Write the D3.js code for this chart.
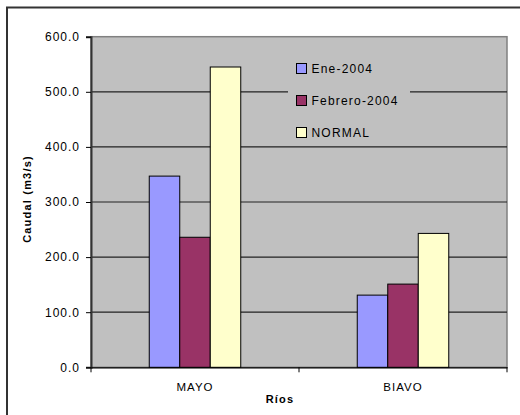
<!DOCTYPE html>
<html><head><meta charset="utf-8">
<script src="https://cdn.jsdelivr.net/npm/d3@7"></script>
<style>body{margin:0;background:#fff}svg{display:block;font-family:"Liberation Sans",Arial,sans-serif}</style>
</head><body>
<script>
const categories = ["MAYO", "BIAVO"];
const seriesNames = ["Ene-2004", "Febrero-2004", "NORMAL"];
const ene2004 = [347, 131];
const febrero2004 = [236, 151];
const normal = [545, 243];
const yTicks = [0, 100, 200, 300, 400, 500, 600];
const colors = ["#9999FF", "#993366", "#FFFFCC"];
const seriesValues = [ene2004, febrero2004, normal];

const W = 520, H = 415;
const svg = d3.select("body").append("svg").attr("width", W).attr("height", H);

// outer frame
svg.append("rect").attr("x", 7).attr("y", 7.5).attr("width", W).attr("height", H)
  .attr("fill", "#fff").attr("stroke", "#333").attr("stroke-width", 2);

const L = 91, R = 507, T = 36.7, B = 367.3;
const x = d3.scaleBand().domain(categories).range([L, R]);
const xs = d3.scaleBand().domain(seriesNames).range([0, 91.5]);
const y = d3.scaleLinear().domain([0, 600]).range([B, T]);

svg.append("rect").attr("x", L).attr("y", T).attr("width", R - L).attr("height", B - T)
  .attr("fill", "#C0C0C0").attr("stroke", "#808080").attr("stroke-width", 1.5);

// gridlines
svg.append("g").selectAll("line").data(yTicks.filter(d => d > 0 && d < 600)).join("line")
  .attr("x1", L).attr("x2", R).attr("y1", d => y(d)).attr("y2", d => y(d))
  .attr("stroke", "#222").attr("stroke-width", 1.2);

// bars
const groups = svg.append("g").selectAll("g").data(seriesNames).join("g").attr("fill", (d, i) => colors[i]);
groups.selectAll("rect").data((s, si) => categories.map((c, ci) => ({c, s, v: seriesValues[si][ci]}))).join("rect")
  .attr("x", d => x(d.c) + (x.bandwidth() - 91.5) / 2 + xs(d.s))
  .attr("width", xs.bandwidth())
  .attr("y", d => y(d.v))
  .attr("height", d => B - y(d.v))
  .attr("stroke", "#000").attr("stroke-width", 1);

// legend
const lg = svg.append("g");
lg.append("rect").attr("x", 288).attr("y", 52).attr("width", 122).attr("height", 92).attr("fill", "#C0C0C0");
seriesNames.forEach((s, i) => {
  const yy = 63.5 + i * 32;
  lg.append("rect").attr("x", 296.5).attr("y", yy).attr("width", 10).attr("height", 10)
    .attr("fill", colors[i]).attr("stroke", "#000").attr("stroke-width", 1);
  lg.append("text").attr("x", 311.5).attr("y", yy + 9.3).text(s)
    .attr("font-size", 12).attr("letter-spacing", 1.2).attr("fill", "#000");
});

// y axis
const ya = d3.axisLeft(y).tickValues(yTicks).tickFormat(d3.format(".1f")).tickSize(5).tickPadding(6);
const yg = svg.append("g").attr("transform", `translate(${L},0)`).call(ya);
yg.select(".domain").attr("stroke", "#333").attr("stroke-width", 2);
yg.selectAll(".tick line").attr("stroke", "#000");
yg.selectAll("text").attr("font-size", 12).attr("letter-spacing", 1).attr("fill", "#000")
  .attr("font-family", '"Liberation Sans",Arial,sans-serif');

// x axis
const xa = d3.axisBottom(x).tickSize(0).tickPadding(16);
const xg = svg.append("g").attr("transform", `translate(0,${B})`).call(xa);
xg.select(".domain").attr("stroke", "#000").attr("stroke-width", 1.2);
xg.selectAll("text").attr("font-size", 11.5).attr("letter-spacing", 1).attr("fill", "#000")
  .attr("font-family", '"Liberation Sans",Arial,sans-serif');
// boundary ticks
svg.append("g").selectAll("line").data([L, (L + R) / 2, R]).join("line")
  .attr("x1", d => d).attr("x2", d => d).attr("y1", B).attr("y2", B + 5)
  .attr("stroke", "#000").attr("stroke-width", 1);

// axis titles
svg.append("text").attr("transform", `translate(31,199) rotate(-90)`).attr("text-anchor", "middle")
  .attr("font-size", 11).attr("font-weight", "bold").attr("letter-spacing", 1.2).text("Caudal (m3/s)");
svg.append("text").attr("x", 280).attr("y", 403).attr("text-anchor", "middle")
  .attr("font-size", 11).attr("font-weight", "bold").attr("letter-spacing", 1.2).text("Ríos");
</script>
</body></html>
